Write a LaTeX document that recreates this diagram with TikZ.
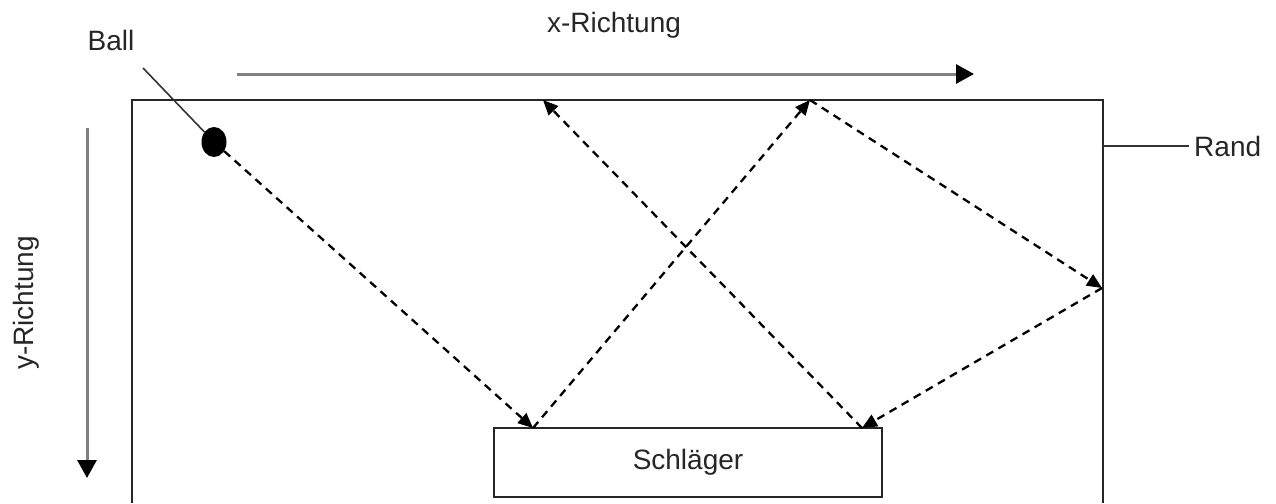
\documentclass[tikz,border=0pt]{standalone}
\usepackage{fontspec}
\setmainfont{Liberation Sans}
\usetikzlibrary{positioning,calc,arrows.meta,shapes.geometric}
\tikzset{
  figfont/.style={font=\fontsize{28}{34}\selectfont, text=black!85},
  figframe/.style={draw=black!85, line width=1.8pt},
  figbox/.style={draw=black!85, line width=1.8pt, minimum width=388pt, minimum height=69pt, inner sep=0pt},
  figball/.style={ellipse, fill=black, minimum width=25pt, minimum height=30pt, inner sep=0pt},
  figpath/.style={dash pattern=on 8pt off 6pt, line width=2.3pt, -{Triangle[length=15pt,width=13pt]}},
  figaxis/.style={draw=gray, line width=3pt, -{Triangle[length=18pt,width=19pt,color=black]}},
  figlead/.style={draw=black!80, line width=1.6pt},
}

\begin{document}
\begin{tikzpicture}[figfont, x=1pt, y=-1pt]
  \useasboundingbox (0,0) rectangle (1276,503);

  % Field border (open at the bottom)
  \draw[figframe] (132,503) |- (1103,100) -- (1103,503);

  % Ball and paddle
  \node[figball] (ball) at (214,142) {};
  \node[figbox] (paddle) at (688,462.5) {Schläger};

  % Bounce points
  \coordinate (hitA) at (533,428);
  \coordinate (topA) at (810,100);
  \coordinate (sideA) at (1102,288);
  \coordinate (hitB) at (862,428);
  \coordinate (topB) at (543,100);

  % Ball track
  \draw[figpath] (ball) -- (hitA);
  \draw[figpath] (hitA) -- (topA);
  \draw[figpath] (topA) -- (sideA);
  \draw[figpath] (sideA) -- (hitB);
  \draw[figpath] (hitB) -- (topB);

  % Direction arrows
  \coordinate (xstart) at (237,74);
  \coordinate (xend) at (974,74);
  \coordinate (ystart) at (87,128);
  \coordinate (yend) at (87,478);
  \draw[figaxis] (xstart) -- (xend);
  \draw[figaxis] (ystart) -- (yend);
  \node (xlabel) at (614,25) {x-Richtung};
  \node[rotate=90] (ylabel) at (26,303) {y-Richtung};

  % Labels with leader lines
  \node (balllabel) at (111,40) {Ball};
  \coordinate (balltag) at (143,68);
  \draw[figlead] (balltag) -- (ball);
  \coordinate (randpt) at (1103,146);
  \node[anchor=west, inner sep=0pt] (rand) at (1194,146) {Rand};
  \draw[figlead] (randpt) -- ++(86,0);
\end{tikzpicture}
\end{document}
